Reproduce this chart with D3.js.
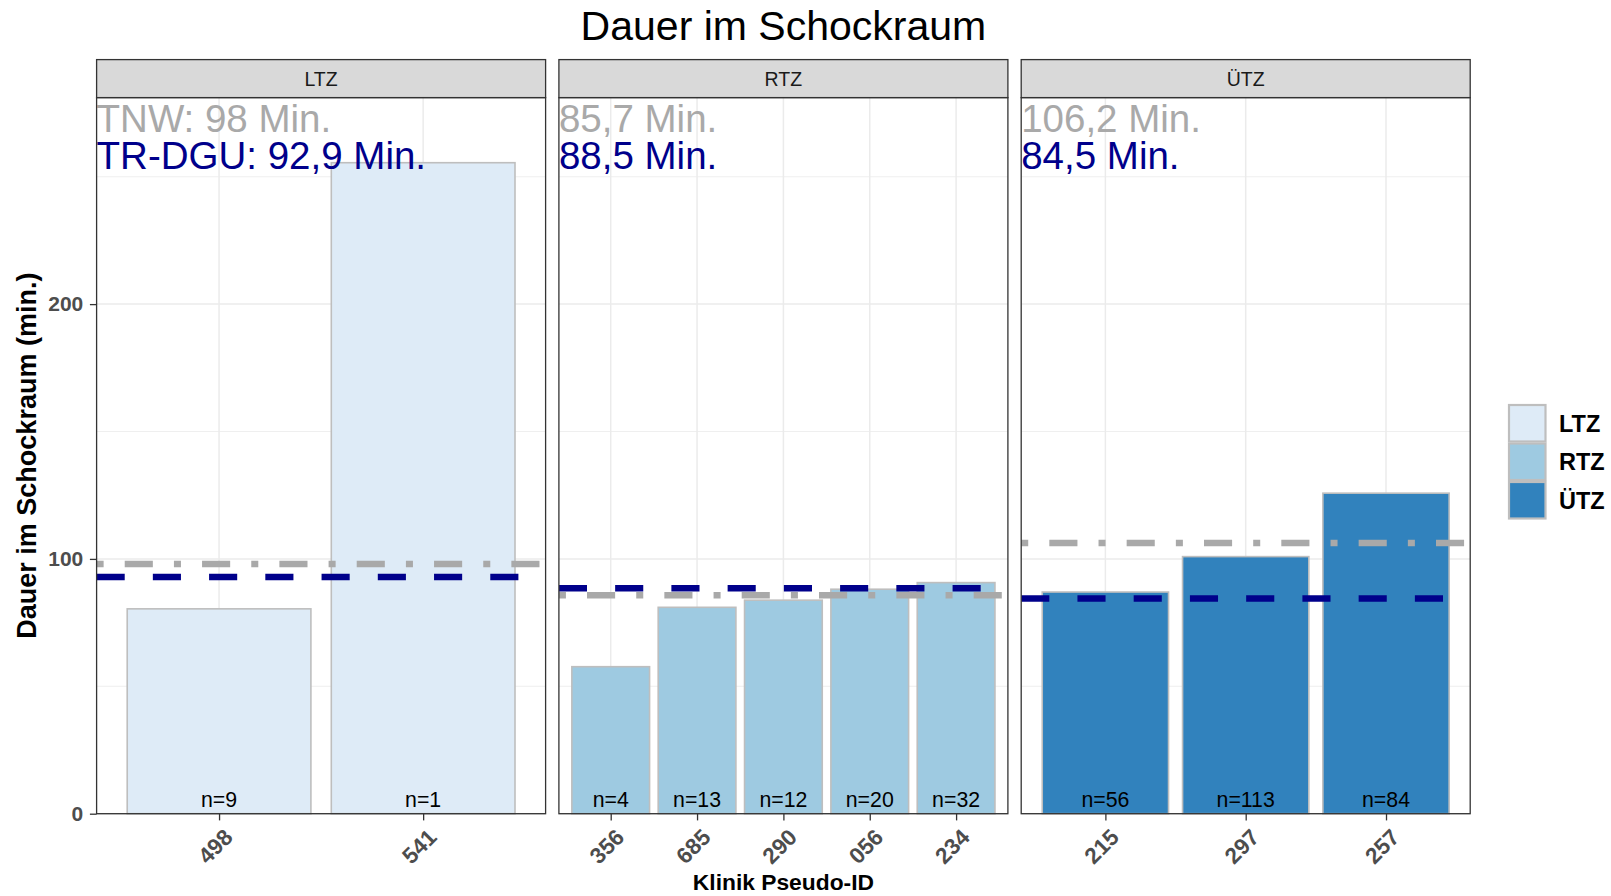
<!DOCTYPE html>
<html>
<head>
<meta charset="utf-8">
<script src="https://cdn.jsdelivr.net/npm/d3@7"></script>
<style>
  body { margin: 0; background: #ffffff; }
  svg { display: block; }
  text { font-family: "Liberation Sans", Arial, Helvetica, sans-serif; }
</style>
</head>
<body>
<svg id="chart" width="1611" height="896"></svg>
<script>
// ---- data ---------------------------------------------------------------
const centreTypes = ["LTZ", "RTZ", "ÜTZ"];
const typeFills   = ["#DEEBF7", "#9ECAE1", "#3182BD"];

const ltzIds    = ["498", "541"];
const ltzValues = [80.4, 255.5];
const ltzN      = [9, 1];

const rtzIds    = ["356", "685", "290", "056", "234"];
const rtzValues = [57.7, 81.0, 83.8, 88.1, 90.7];
const rtzN      = [4, 13, 12, 20, 32];

const utzIds    = ["215", "297", "257"];
const utzValues = [87.0, 100.9, 125.8];
const utzN      = [56, 113, 84];

// reference means per centre type: TraumaNetzwerk and TraumaRegister DGU
const tnwMeans  = [98, 85.7, 106.2];
const dguMeans  = [92.9, 88.5, 84.5];
const tnwPrefix = ["TNW: ", "", ""];
const dguPrefix = ["TR-DGU: ", "", ""];

const yTicks      = [0, 100, 200];
const yMinorTicks = [50, 150, 250];

const panels = [
  { type: centreTypes[0], ids: ltzIds, values: ltzValues, n: ltzN },
  { type: centreTypes[1], ids: rtzIds, values: rtzValues, n: rtzN },
  { type: centreTypes[2], ids: utzIds, values: utzValues, n: utzN }
];

// ---- layout -------------------------------------------------------------
const svg = d3.select("#chart");
const panelX0 = 96.6, panelW = 449, panelGap = 13.3;
const panelTop = 97.6, panelBottom = 813.7, stripTop = 59.6;
const border = "#333333", gridCol = "#EBEBEB", barStroke = "#BEBEBE";
const tnwCol = "#A9A9A9", dguCol = "#00008B";
const dashUnit = 7.03;
const fmt = v => String(v).replace(".", ",");

const yMax = d3.max([...ltzValues, ...rtzValues, ...utzValues]) * 1.1;
const y = d3.scaleLinear().domain([0, yMax]).range([panelBottom, panelTop]);

const fill = d3.scaleOrdinal().domain(centreTypes).range(typeFills);

// title
svg.append("text")
  .attr("x", panelX0 + (3 * panelW + 2 * panelGap) / 2)
  .attr("y", 39.5)
  .attr("text-anchor", "middle")
  .style("font-size", "41px")
  .attr("fill", "#000")
  .text("Dauer im Schockraum");

panels.forEach((p, i) => {
  const x0 = panelX0 + i * (panelW + panelGap);
  const x = d3.scalePoint().domain(p.ids).range([x0, x0 + panelW]).padding(0.6);
  const bw = x.step() * 0.9;
  const g = svg.append("g");

  const clipId = "clip" + i;
  g.append("clipPath").attr("id", clipId)
    .append("rect").attr("x", x0).attr("y", panelTop)
    .attr("width", panelW).attr("height", panelBottom - panelTop);

  // panel background and grid
  g.append("rect").attr("x", x0).attr("y", panelTop)
    .attr("width", panelW).attr("height", panelBottom - panelTop)
    .attr("fill", "#fff");

  g.selectAll(".ymin").data(yMinorTicks).join("line")
    .attr("x1", x0).attr("x2", x0 + panelW)
    .attr("y1", d => y(d)).attr("y2", d => y(d))
    .attr("stroke", gridCol).attr("stroke-width", 0.8);
  g.selectAll(".ymaj").data(yTicks).join("line")
    .attr("x1", x0).attr("x2", x0 + panelW)
    .attr("y1", d => y(d)).attr("y2", d => y(d))
    .attr("stroke", gridCol).attr("stroke-width", 1.5);
  g.selectAll(".xmaj").data(p.ids).join("line")
    .attr("x1", d => x(d)).attr("x2", d => x(d))
    .attr("y1", panelTop).attr("y2", panelBottom)
    .attr("stroke", gridCol).attr("stroke-width", 1.5);

  // bars
  const rows = p.ids.map((id, k) => ({ id, v: p.values[k], n: p.n[k] }));
  g.selectAll(".bar").data(rows).join("rect")
    .attr("x", d => x(d.id) - bw / 2)
    .attr("y", d => y(d.v))
    .attr("width", bw)
    .attr("height", d => y(0) - y(d.v))
    .attr("fill", fill(p.type))
    .attr("stroke", barStroke).attr("stroke-width", 1.6);

  // reference lines
  const lines = g.append("g").attr("clip-path", `url(#${clipId})`);
  lines.append("line")
    .attr("x1", x0).attr("x2", x0 + panelW)
    .attr("y1", y(tnwMeans[i])).attr("y2", y(tnwMeans[i]))
    .attr("stroke", tnwCol).attr("stroke-width", 6.5)
    .attr("stroke-dasharray", [1, 3, 4, 3].map(d => d * dashUnit).join(","));
  lines.append("line")
    .attr("x1", x0).attr("x2", x0 + panelW)
    .attr("y1", y(dguMeans[i])).attr("y2", y(dguMeans[i]))
    .attr("stroke", dguCol).attr("stroke-width", 6.5)
    .attr("stroke-dasharray", [4, 4].map(d => d * dashUnit).join(","));

  // n labels
  g.selectAll(".nlab").data(rows).join("text")
    .attr("x", d => x(d.id))
    .attr("y", y(0) - 7)
    .attr("text-anchor", "middle")
    .style("font-size", "21.3px")
    .attr("fill", "#000")
    .text(d => "n=" + d.n);

  // mean annotations
  g.append("text").attr("x", x0).attr("y", 132)
    .style("font-size", "38.5px").attr("fill", tnwCol)
    .text(tnwPrefix[i] + fmt(tnwMeans[i]) + " Min.");
  g.append("text").attr("x", x0).attr("y", 168.7)
    .style("font-size", "38.5px").attr("fill", dguCol)
    .text(dguPrefix[i] + fmt(dguMeans[i]) + " Min.");

  // panel border
  g.append("rect").attr("x", x0).attr("y", panelTop)
    .attr("width", panelW).attr("height", panelBottom - panelTop)
    .attr("fill", "none").attr("stroke", border).attr("stroke-width", 1.3);

  // strip
  g.append("rect").attr("x", x0).attr("y", stripTop)
    .attr("width", panelW).attr("height", panelTop - stripTop)
    .attr("fill", "#D9D9D9").attr("stroke", border).attr("stroke-width", 1.3);
  g.append("text")
    .attr("x", x0 + panelW / 2).attr("y", 85.5)
    .attr("text-anchor", "middle")
    .style("font-size", "19.5px").attr("fill", "#1A1A1A")
    .text(p.type);

  // x axis
  const xa = svg.append("g")
    .attr("transform", `translate(0,${panelBottom})`)
    .call(d3.axisBottom(x).tickSize(6.7).tickSizeOuter(0));
  xa.select(".domain").remove();
  xa.selectAll(".tick line").attr("stroke", border).attr("stroke-width", 1.3);
  xa.selectAll(".tick text")
    .attr("x", 0).attr("y", 0).attr("dy", "0.72em")
    .attr("text-anchor", "end")
    .attr("transform", "translate(3,13.5) rotate(-45)")
    .style("font-size", "22.5px").style("font-weight", "bold")
    .style("font-family", '"Liberation Sans", Arial, sans-serif')
    .attr("fill", "#4D4D4D");

  // y axis (first panel only)
  if (i === 0) {
    const ya = svg.append("g")
      .attr("transform", `translate(${x0},0)`)
      .call(d3.axisLeft(y).tickValues(yTicks).tickSize(6.7).tickPadding(6.6).tickFormat(d3.format("d")));
    ya.select(".domain").remove();
    ya.selectAll(".tick line").attr("stroke", border).attr("stroke-width", 1.3);
    ya.selectAll(".tick text")
      .style("font-size", "21px").style("font-weight", "bold")
      .style("font-family", '"Liberation Sans", Arial, sans-serif')
      .attr("fill", "#4D4D4D");
  }
});

// axis titles
svg.append("text")
  .attr("x", panelX0 + (3 * panelW + 2 * panelGap) / 2)
  .attr("y", 889.5)
  .attr("text-anchor", "middle")
  .style("font-size", "22.8px").style("font-weight", "bold")
  .attr("fill", "#000")
  .text("Klinik Pseudo-ID");

svg.append("text")
  .attr("transform", `translate(36,${(panelTop + panelBottom) / 2}) rotate(-90)`)
  .attr("text-anchor", "middle")
  .style("font-size", "27px").style("font-weight", "bold")
  .attr("fill", "#000")
  .text("Dauer im Schockraum (min.)");

// legend
const key = 38.5, legX = 1508, legY = 404;
const leg = svg.append("g");
centreTypes.forEach((t, k) => {
  leg.append("rect")
    .attr("x", legX + 1).attr("y", legY + k * key + 1)
    .attr("width", key - 2).attr("height", key - 2)
    .attr("fill", fill(t)).attr("stroke", barStroke).attr("stroke-width", 2.2);
  leg.append("text")
    .attr("x", 1559).attr("y", legY + k * key + key / 2)
    .attr("dy", "0.36em")
    .style("font-size", "23.5px").style("font-weight", "bold")
    .attr("fill", "#000")
    .text(t);
});
</script>
</body>
</html>
